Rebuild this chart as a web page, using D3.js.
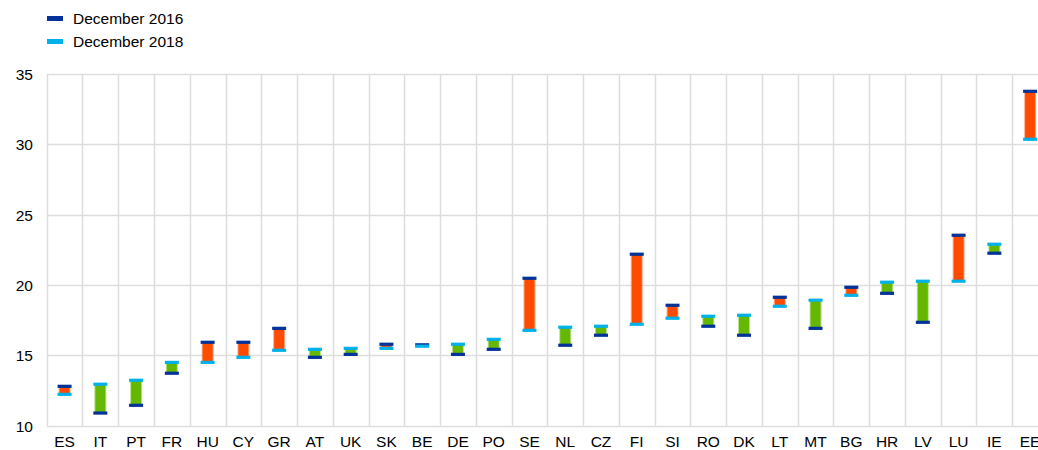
<!DOCTYPE html>
<html>
<head>
<meta charset="utf-8">
<script src="https://cdn.jsdelivr.net/npm/d3@7"></script>
<style>
  html, body { margin: 0; padding: 0; background: #fff; }
  svg { display: block; font-family: "Liberation Sans", Arial, sans-serif; }
</style>
</head>
<body>
<svg id="chart" width="1038" height="450"></svg>
<script>
const categories = ["ES","IT","PT","FR","HU","CY","GR","AT","UK","SK","BE","DE","PO","SE","NL","CZ","FI","SI","RO","DK","LT","MT","BG","HR","LV","LU","IE","EE"];
const dec2016 = [12.8,10.9,11.45,13.73,15.93,15.93,16.92,14.86,15.07,15.79,15.75,15.07,15.43,20.48,15.72,16.43,22.19,18.56,17.07,16.43,19.13,16.92,19.84,19.41,17.35,23.54,22.26,33.77];
const dec2018 = [12.23,12.95,13.23,14.5,14.5,14.86,15.36,15.43,15.5,15.5,15.65,15.79,16.14,16.78,17.0,17.07,17.21,17.64,17.78,17.85,18.49,18.92,19.27,20.2,20.27,20.27,22.9,30.36];
const yTicks = [10,15,20,25,30,35];
const seriesNames = ["December 2016","December 2018"];

(function () {
const colors = { d16: "#003299", d18: "#00b1ea", up: "#65b800", down: "#ff4b00", grid: "#dddddd" };
const fs = 15.5;

const svg = d3.select("#chart");
const pLeft = 46.7, pRight = 1048, pTop = 74, pBottom = 425.7;

const x = d3.scaleBand().domain(categories).range([pLeft, pRight]).paddingInner(0).paddingOuter(0);
const y = d3.scaleLinear().domain([10, 35]).range([pBottom, pTop]);

// horizontal grid
svg.append("g").selectAll("line").data(yTicks).join("line")
  .attr("x1", pLeft).attr("x2", 1038)
  .attr("y1", d => Math.round(y(d)) + 0.5).attr("y2", d => Math.round(y(d)) + 0.5)
  .attr("stroke", colors.grid).attr("stroke-width", 1.5);

// vertical grid (category boundaries)
const bounds = categories.map(c => x(c)).concat([pRight]);
svg.append("g").selectAll("line").data(bounds).join("line")
  .attr("x1", d => Math.round(d) + 0.5).attr("x2", d => Math.round(d) + 0.5)
  .attr("y1", pTop).attr("y2", pBottom)
  .attr("stroke", colors.grid).attr("stroke-width", 1.5);

// y axis labels
const yAxis = d3.axisLeft(y).tickValues(yTicks).tickSize(0).tickPadding(0).tickFormat(d3.format("d"));
const yg = svg.append("g").attr("transform", `translate(33,0)`).call(yAxis);
yg.select(".domain").remove();
yg.selectAll("text").attr("font-size", fs).attr("fill", "#000").attr("font-family", "Liberation Sans, Arial, sans-serif").attr("dy", "0.35em");

// x axis labels
const xAxis = d3.axisBottom(x).tickSize(0).tickPadding(0);
const xg = svg.append("g").attr("transform", `translate(0,${pBottom + 10})`).call(xAxis);
xg.select(".domain").remove();
xg.selectAll("text").attr("font-size", fs).attr("fill", "#000").attr("font-family", "Liberation Sans, Arial, sans-serif").attr("dy", "0.71em");

const data = categories.map((c, i) => ({ c, a: dec2016[i], b: dec2018[i] }));
const bw = 10, mw = 14, mh = 3.2;

const g = svg.append("g");
g.selectAll("rect.edge").data(data).join("rect").attr("class", "edge")
  .attr("x", d => x(d.c) + x.bandwidth() / 2 - bw / 2 - 1)
  .attr("width", bw + 2)
  .attr("y", d => y(Math.max(d.a, d.b)))
  .attr("height", d => Math.abs(y(d.a) - y(d.b)))
  .attr("fill", d => d.b >= d.a ? colors.up : colors.down).attr("opacity", 0.45);
g.selectAll("rect.bar").data(data).join("rect").attr("class", "bar")
  .attr("x", d => x(d.c) + x.bandwidth() / 2 - bw / 2)
  .attr("width", bw)
  .attr("y", d => y(Math.max(d.a, d.b)))
  .attr("height", d => Math.abs(y(d.a) - y(d.b)))
  .attr("fill", d => d.b >= d.a ? colors.up : colors.down);

g.selectAll("rect.m16").data(data).join("rect").attr("class", "m16")
  .attr("x", d => x(d.c) + x.bandwidth() / 2 - mw / 2).attr("width", mw)
  .attr("y", d => y(d.a) - mh / 2).attr("height", mh).attr("fill", colors.d16);
g.selectAll("rect.m18").data(data).join("rect").attr("class", "m18")
  .attr("x", d => x(d.c) + x.bandwidth() / 2 - mw / 2).attr("width", mw)
  .attr("y", d => y(d.b) - mh / 2).attr("height", mh).attr("fill", colors.d18);

// legend
const lg = svg.append("g");
const legendItems = [{ name: seriesNames[0], color: colors.d16 }, { name: seriesNames[1], color: colors.d18 }];
legendItems.forEach((it, i) => {
  const cy = 18.5 + i * 23;
  lg.append("rect").attr("x", 47).attr("y", cy - 2.5).attr("width", 16).attr("height", 5).attr("fill", it.color);
  lg.append("text").attr("x", 73).attr("y", cy).attr("dy", "0.35em")
    .attr("font-size", fs).attr("fill", "#000").text(it.name);
});
})();
</script>
</body>
</html>
